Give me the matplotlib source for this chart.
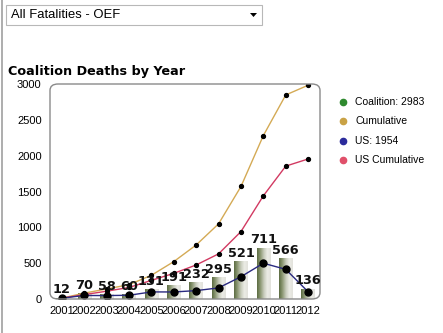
import matplotlib
matplotlib.use("Agg")
import matplotlib.pyplot as plt
import numpy as np
from matplotlib.patches import FancyBboxPatch, Rectangle, Polygon
from matplotlib.colors import LinearSegmentedColormap

years = ["2001", "2002", "2003", "2004", "2005", "2006", "2007", "2008", "2009", "2010", "2011", "2012"]
coalition = [12, 70, 58, 60, 131, 191, 232, 295, 521, 711, 566, 136]
cumulative = [12, 82, 140, 200, 331, 522, 754, 1049, 1570, 2281, 2847, 2983]
us = [12, 49, 48, 52, 99, 98, 117, 155, 311, 499, 414, 100]
us_cumulative = [12, 61, 109, 161, 260, 358, 475, 630, 941, 1440, 1854, 1954]
legend_labels = ["Coalition: 2983", "Cumulative", "US: 1954", "US Cumulative"]
legend_colors = ["#2f8a2f", "#c9a245", "#2b2b9c", "#e0506a"]

W, H = 443, 333
fig = plt.figure(figsize=(W / 100, H / 100), dpi=100)
fig.patch.set_facecolor("white")

def fx(px):
    return px / W

def fy(py):
    return 1 - py / H

# left gray page line
fig.add_artist(plt.Line2D([fx(1.5), fx(1.5)], [0, 1], color="#a0a0a0", lw=1.2))

# dropdown
fig.add_artist(Rectangle((fx(6), fy(25)), fx(262) - fx(6), fy(5) - fy(25),
                         facecolor="white", edgecolor="#b8b8b8", lw=0.8))
fig.text(fx(11), fy(15), "All Fatalities - OEF", fontsize=9.4, family="Liberation Sans",
         va="center", ha="left", color="black")
fig.add_artist(Polygon([[fx(250), fy(13)], [fx(257), fy(13)], [fx(253.5), fy(17)]],
                       closed=True, facecolor="black", edgecolor="none"))

# title
fig.text(fx(8), fy(71), "Coalition Deaths by Year", fontsize=9.2, fontweight="bold",
         family="DejaVu Sans", va="center", ha="left", color="black")

ax = fig.add_axes([fx(50), fy(299), fx(320) - fx(50), fy(84) - fy(299)])
ax.set_facecolor("none")
x = np.arange(len(years))

# gradient bars
cmap = LinearSegmentedColormap.from_list("cyl", ["#5c6c42", "#8e9a76", "#c8ccbc", "#ecece6", "#e2e2dc"])
grad = np.linspace(0, 1, 64).reshape(1, -1)
bw = 0.6
for xi, v in zip(x, coalition):
    ax.imshow(grad, cmap=cmap, aspect="auto", extent=[xi - bw / 2, xi + bw / 2, 0, v],
              zorder=1, interpolation="bilinear")
    ax.text(xi, v + 25, str(v), ha="center", va="bottom", fontsize=9.3,
            fontweight="bold", family="DejaVu Sans", color="#111111", zorder=6)
ax.set_xlim(-0.53, len(years) - 1 + 0.53)
ax.set_ylim(0, 3000)

ax.plot(x, cumulative, color="#d4aa55", lw=1.0, zorder=3)
ax.plot(x, cumulative, "o", color="black", ms=2.8, zorder=4)
ax.plot(x, us_cumulative, color="#d23a62", lw=1.0, zorder=3)
ax.plot(x, us_cumulative, "o", color="black", ms=2.8, zorder=4)
ax.plot(x, us, color="#2a2a80", lw=1.0, zorder=3)
ax.plot(x, us, "o", color="black", ms=5, zorder=4)

for s in ax.spines.values():
    s.set_visible(False)
frame = FancyBboxPatch((0, 0), 1, 1, boxstyle="round,pad=0,rounding_size=0.03",
                       transform=ax.transAxes, facecolor="none", edgecolor="#8a8a8a",
                       lw=1.0, zorder=5, clip_on=False)
ax.add_patch(frame)

ax.set_xticks(x)
ax.set_xticklabels(years, fontsize=8, family="Liberation Sans")
ax.set_yticks([0, 500, 1000, 1500, 2000, 2500, 3000])
ax.set_yticklabels(["0", "500", "1000", "1500", "2000", "2500", "3000"], fontsize=8,
                   family="Liberation Sans")
ax.tick_params(length=0, pad=5)
ax.tick_params(axis="y", pad=6)

# legend
ly = [102, 121, 141, 160]
for lab, col, yy in zip(legend_labels, legend_colors, ly):
    fig.add_artist(plt.Line2D([fx(343)], [fy(yy)], marker="o", ms=4.5, color=col,
                              markeredgecolor=col, linestyle="none"))
    fig.text(fx(355), fy(yy), lab, fontsize=7.5, family="Liberation Sans",
             va="center", ha="left", color="black")

fig.savefig("out.png", dpi=100)
